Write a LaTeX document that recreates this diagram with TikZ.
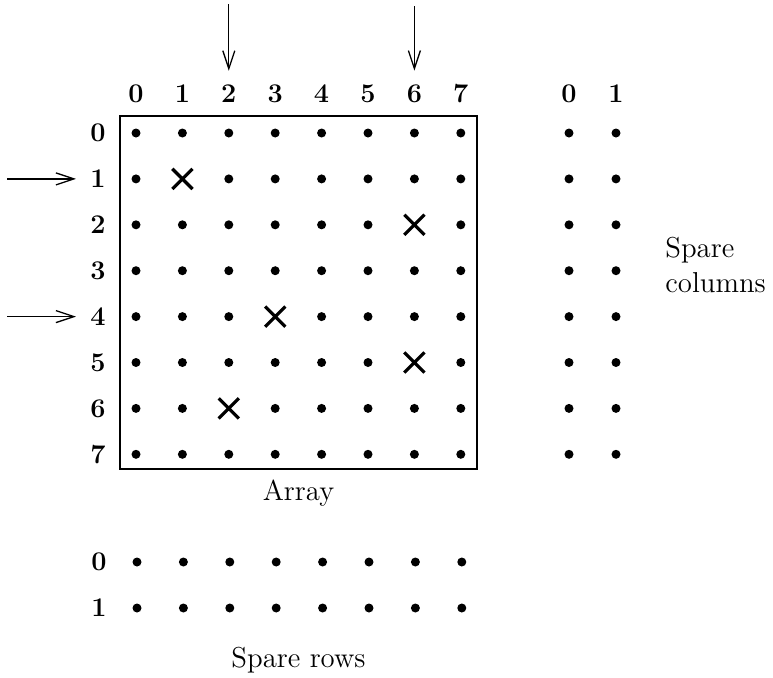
\documentclass[tikz,border=0pt]{standalone}
\usetikzlibrary{arrows.meta,shapes.misc}
\begin{document}
\begin{tikzpicture}[x=0.5pt,y=-0.5pt,
  dot/.style={circle,fill,inner sep=0pt,minimum size=4.5pt},
  fault/.style={cross out,draw,inner sep=0pt,minimum size=8.5pt,line width=1.6pt},
  idx/.style={font=\fontsize{13.5}{16}\selectfont\bfseries,inner sep=0pt},
  caption/.style={font=\fontsize{14.4}{17.5}\selectfont,inner sep=0pt},
  pointer/.style={line width=0.65pt,-{Straight Barb[length=9pt,width=6pt]}},
  frame/.style={draw,line width=1.1pt,inner sep=0pt}]
\useasboundingbox (0,0) rectangle (773,677);

% faulty cells of the main array
\foreach \k in {r1c1,r2c6,r4c3,r5c6,r6c2}{\expandafter\gdef\csname fault\k\endcsname{}}

% main array frame
\node[frame,minimum width=178.5pt,minimum height=176.5pt] (array) at (298.5,292.5) {};
\node[caption,anchor=north] (arraylbl) at (298.5,480) {Array};

% column and row indices
\foreach \c in {0,...,7}{
  \node[idx] (col\c) at ({136+46.4*\c},94) {\c};
}
\foreach \r in {0,...,7}{
  \node[idx] (row\r) at (98,{133+45.9*\r}) {\r};
}

% cells
\foreach \r in {0,...,7}{
  \foreach \c in {0,...,7}{
    \ifcsname faultr\r c\c\endcsname
      \node[fault] (a\r\c) at ({136+46.4*\c},{133+45.9*\r}) {};
    \else
      \node[dot] (a\r\c) at ({136+46.4*\c},{133+45.9*\r}) {};
    \fi
  }
}

% spare columns
\foreach \c in {0,1}{
  \node[idx] (scol\c) at ({569+47*\c},94) {\c};
  \foreach \r in {0,...,7}{
    \node[dot] (sc\r\c) at ({569+47*\c},{133+45.9*\r}) {};
  }
}
\node[caption,anchor=west,align=left] (sclbl) at (665,265) {Spare\\columns};

% spare rows
\foreach \r in {0,1}{
  \node[idx] (srow\r) at (99,{562+46*\r}) {\r};
  \foreach \c in {0,...,7}{
    \node[dot] (sr\r\c) at ({137+46.4*\c},{562+46*\r}) {};
  }
}
\node[caption] (srlbl) at (298.5,660) {Spare rows};

% pointers to the selected columns and rows
\coordinate (top2) at (col2 |- 0,4);
\coordinate (top6) at (col6 |- 0,6);
\draw[pointer,shorten >=7pt] (top2) -- (col2);
\draw[pointer,shorten >=7pt] (top6) -- (col6);
\coordinate (left1) at (7,0 |- row1);
\coordinate (left4) at (7,0 |- row4);
\draw[pointer,shorten >=7pt] (left1) -- (row1);
\draw[pointer,shorten >=7pt] (left4) -- (row4);
\end{tikzpicture}
\end{document}
